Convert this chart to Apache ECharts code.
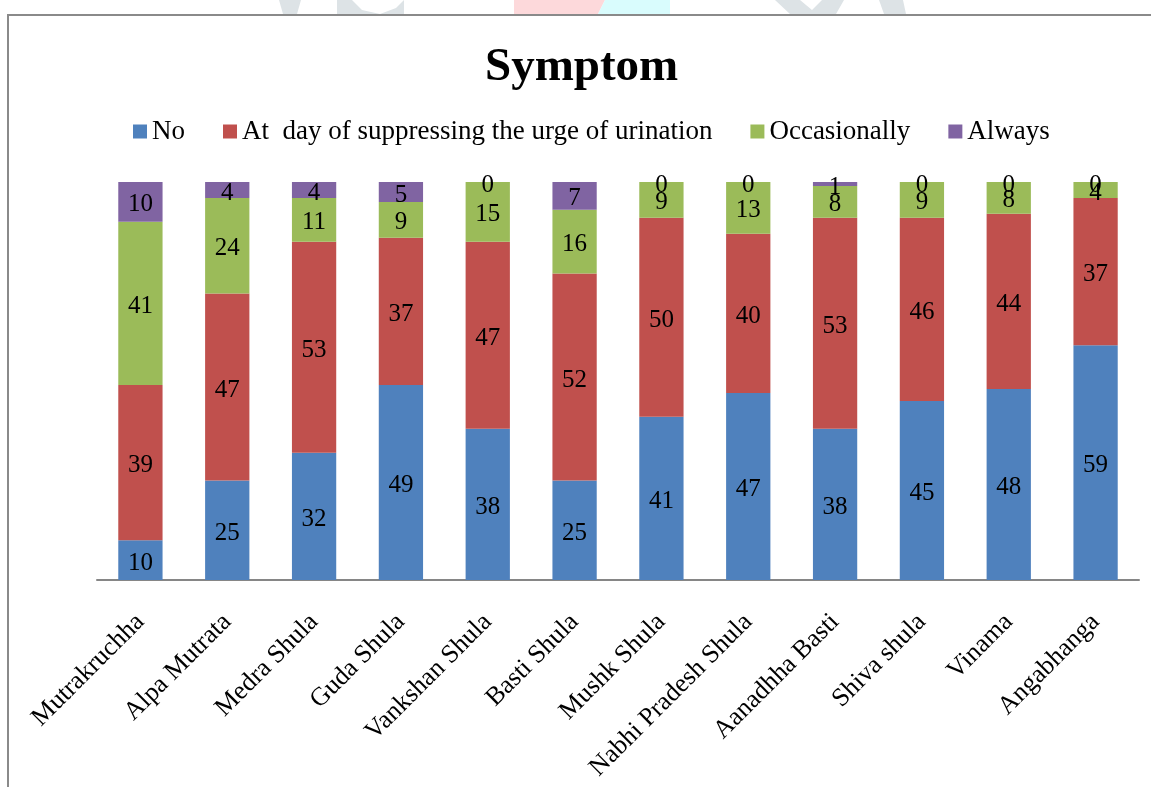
<!DOCTYPE html>
<html>
<head>
<meta charset="utf-8">
<title>Symptom</title>
<script src="https://cdn.jsdelivr.net/npm/echarts@6/dist/echarts.min.js"></script>
<style>
  html, body { margin: 0; padding: 0; background: #ffffff; }
  #chart { width: 1151px; height: 787px; }
</style>
</head>
<body>
<div id="chart"></div>
<script>
// Symptom categories and the share of patients in each response group
const categories = [
  'Mutrakruchha', 'Alpa Mutrata', 'Medra Shula', 'Guda Shula', 'Vankshan Shula',
  'Basti Shula', 'Mushk Shula', 'Nabhi Pradesh Shula', 'Aanadhha Basti',
  'Shiva shula', 'Vinama', 'Angabhanga'
];
const seriesNames = ['No', 'At  day of suppressing the urge of urination', 'Occasionally', 'Always'];
const noValues           = [10, 25, 32, 49, 38, 25, 41, 47, 38, 45, 48, 59];
const atDayValues        = [39, 47, 53, 37, 47, 52, 50, 40, 53, 46, 44, 37];
const occasionallyValues = [41, 24, 11,  9, 15, 16,  9, 13,  8,  9,  8,  4];
const alwaysValues       = [10,  4,  4,  5,  0,  7,  0,  0,  1,  0,  0,  0];

const colors = ['#4F81BD', '#C0504D', '#9BBB59', '#8064A2'];
const serif = '"Liberation Serif", "Times New Roman", serif';

const chart = echarts.init(document.getElementById('chart'), null, { renderer: 'canvas' });

function barSeries(name, values, color) {
  return {
    name: name,
    type: 'bar',
    stack: 'total',
    barCategoryGap: '49%',
    data: values,
    itemStyle: { color: color },
    label: {
      show: true,
      position: 'inside',
      offset: [0, 3],
      color: '#000000',
      fontFamily: serif,
      fontSize: 25
    },
    emphasis: { disabled: true },
    animation: false
  };
}

chart.setOption({
  backgroundColor: '#ffffff',
  animation: false,
  color: colors,
  title: {
    text: 'Symptom',
    left: 485,
    top: 44,
    padding: 0,
    textStyle: { fontFamily: serif, fontSize: 47, fontWeight: 'bold', color: '#000000' }
  },
  legend: {
    top: 118,
    left: 133,
    padding: 0,
    icon: 'rect',
    itemWidth: 14,
    itemHeight: 14,
    itemGap: 38,
    textStyle: { fontFamily: serif, fontSize: 27, color: '#000000' },
    data: seriesNames
  },
  grid: {
    left: 97, right: 12, top: 182, bottom: 207,
    containLabel: false,
    outerBoundsMode: 'none'
  },
  xAxis: {
    type: 'category',
    data: categories,
    axisLine: { show: true, lineStyle: { color: '#868686', width: 2 } },
    axisTick: { show: false },
    axisLabel: {
      interval: 0,
      rotate: 45,
      margin: 38,
      color: '#000000',
      fontFamily: serif,
      fontSize: 26
    }
  },
  yAxis: {
    type: 'value',
    min: 0,
    max: 100,
    show: false,
    splitLine: { show: false }
  },
  graphic: [
    // faint marks peeking out above the frame
    { type: 'polygon', silent: true, z: 0, shape: { points: [[279, 0], [301, 0], [297, 14], [283, 14]] }, style: { fill: '#dde3e6' } },
    { type: 'polygon', silent: true, z: 0, shape: { points: [[337, 0], [352, 0], [362, 10], [380, 14], [396, 8], [404, 0], [404, 14], [337, 14]] }, style: { fill: '#dde3e6' } },
    { type: 'polygon', silent: true, z: 0, shape: { points: [[514, 0], [605, 0], [598, 14], [514, 14]] }, style: { fill: '#fdd9db' } },
    { type: 'polygon', silent: true, z: 0, shape: { points: [[605, 0], [670, 0], [670, 14], [598, 14]] }, style: { fill: '#d9fcfd' } },
    { type: 'polygon', silent: true, z: 0, shape: { points: [[775, 0], [800, 0], [812, 10], [822, 0], [844, 0], [836, 14], [790, 14]] }, style: { fill: '#dde3e6' } },
    { type: 'polygon', silent: true, z: 0, shape: { points: [[879, 0], [903, 0], [906, 14], [884, 14]] }, style: { fill: '#dde3e6' } },
    // outer frame
    {
      type: 'rect', silent: true, z: 0,
      shape: { x: 8, y: 15, width: 1300, height: 1000 },
      style: { fill: 'none', stroke: '#8a8a8a', lineWidth: 2 }
    }
  ],
  series: [
    barSeries(seriesNames[0], noValues, colors[0]),
    barSeries(seriesNames[1], atDayValues, colors[1]),
    barSeries(seriesNames[2], occasionallyValues, colors[2]),
    barSeries(seriesNames[3], alwaysValues, colors[3])
  ]
});
</script>
</body>
</html>
